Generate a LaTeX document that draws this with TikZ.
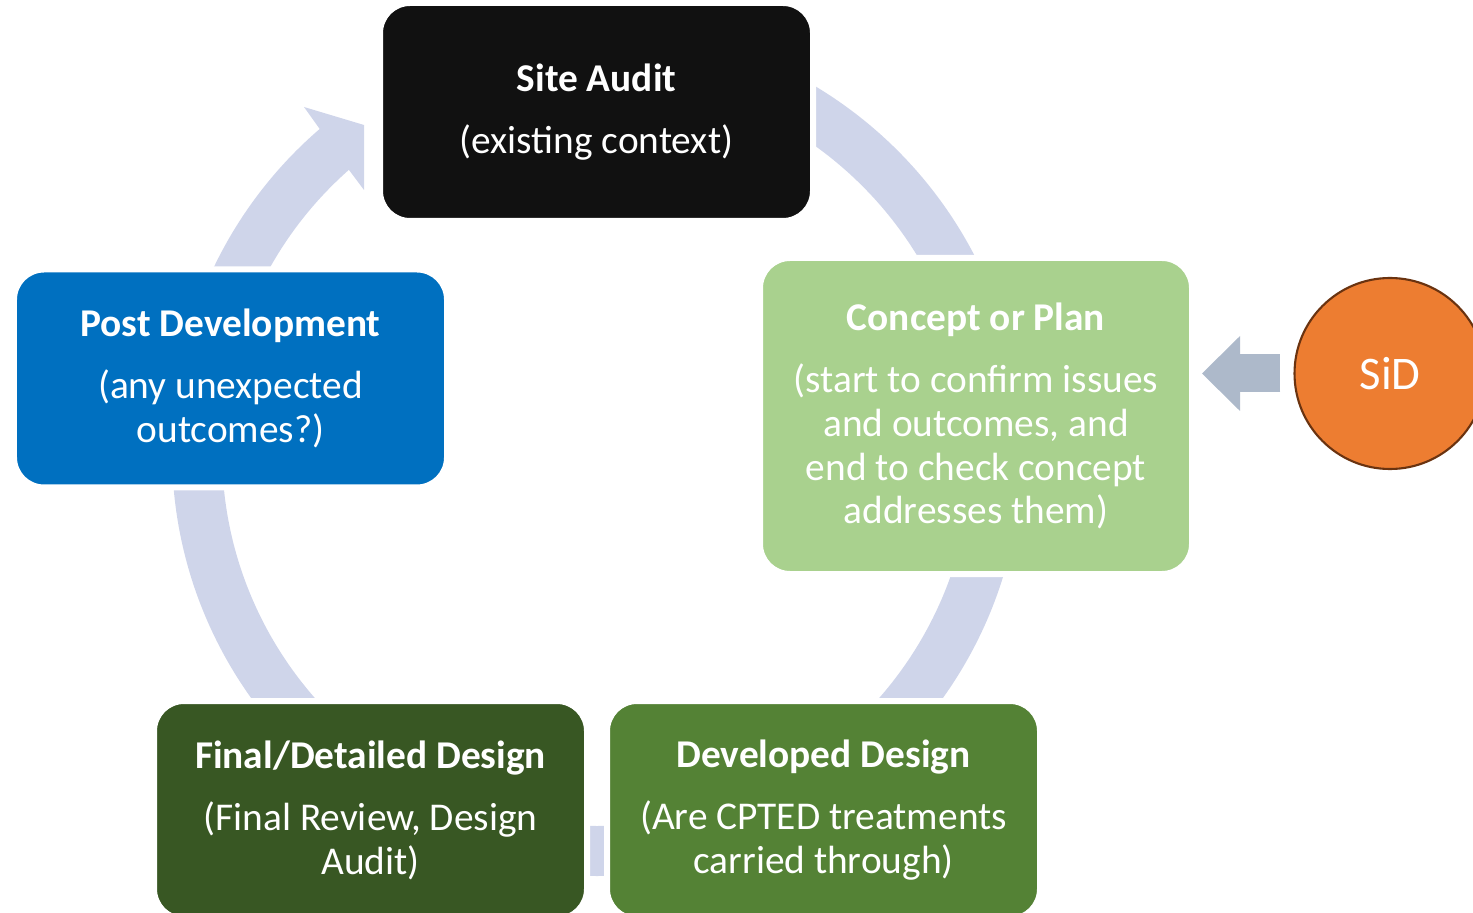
\documentclass[tikz,border=0pt]{standalone}
\usepackage{fontspec}
\setmainfont{Carlito}
\usetikzlibrary{arrows.meta}
\definecolor{ringblue}{HTML}{CFD5EA}
\definecolor{auditblack}{HTML}{111111}
\definecolor{conceptgreen}{HTML}{A9D18E}
\definecolor{developgreen}{HTML}{548235}
\definecolor{finalgreen}{HTML}{385723}
\definecolor{postblue}{HTML}{0070C0}
\definecolor{sidorange}{HTML}{ED7D31}
\definecolor{sidbrown}{HTML}{6A3310}
\definecolor{arrowgrey}{HTML}{ADB9CA}
\newcommand{\stagetitle}[1]{\textbf{#1}\\[0.18cm]}
\tikzset{
  stage/.style={draw=white, line width=0.06cm, rounded corners=0.3cm,
    minimum width=4.33cm, minimum height=2.18cm, inner sep=0pt,
    text=white, align=center, font=\fontsize{11.2}{12.5}\selectfont},
  sidarrow/.style={arrowgrey, line width=0.38cm,
    -{Triangle[width=0.75cm, length=0.38cm, line width=0pt]},
    shorten <=0.13cm, shorten >=0.07cm}
}

\begin{document}
\begin{tikzpicture}
  \useasboundingbox (0,0) rectangle (14.73,9.12);
  \clip (0,0) rectangle (14.73,9.12);
  \draw[ringblue, line width=0.5cm] (5.97,4.61) ++(90:4) arc[start angle=90, end angle=-229.5, radius=4];
  \fill[ringblue] (3.19,7.84) -- (3.04,8.05) -- (3.64,7.87) -- (3.64,7.22) -- (3.49,7.42) -- cycle;
  \node[stage, fill=auditblack] (audit) at (5.965,8.00) {\stagetitle{Site Audit}(existing context)};
  \node[stage, fill=conceptgreen, minimum width=4.32cm, minimum height=3.16cm] (concept) at (9.76,4.96)
    {\stagetitle{Concept or Plan}(start to confirm issues\\and outcomes, and\\end to check concept\\addresses them)};
  \node[stage, fill=developgreen] (developed) at (8.235,1.02) {\stagetitle{Developed Design}(Are CPTED treatments\\carried through)};
  \node[stage, fill=finalgreen] (final) at (3.705,1.02) {\stagetitle{Final/Detailed Design}(Final Review, Design\\Audit)};
  \node[stage, fill=postblue] (post) at (2.305,5.335) {\stagetitle{Post Development}(any unexpected\\outcomes?)};
  \node[circle, draw=sidbrown, fill=sidorange, line width=0.6pt, minimum size=1.91cm, inner sep=0pt,
    text=white, font=\fontsize{13.3}{15}\selectfont] (sid) at (13.90,5.385) {SiD};
  \draw[sidarrow] (sid.west) -- (sid.west -| concept.east);
\end{tikzpicture}
\end{document}
